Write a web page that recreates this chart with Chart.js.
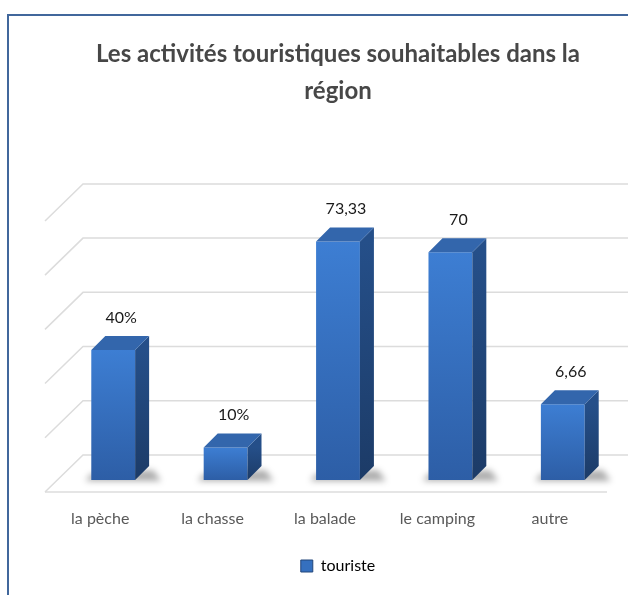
<!DOCTYPE html>
<html>
<head>
<meta charset="utf-8">
<script src="https://cdn.jsdelivr.net/npm/chart.js@4.4.0/dist/chart.umd.min.js"></script>
<style>
  html, body { margin: 0; padding: 0; background: #fff; }
  #bingkai { position: absolute; left: 7px; top: 14px; width: 700px; height: 700px;
             border-left: 2px solid #41679c; border-top: 2px solid #41679c; }
  canvas { position: absolute; left: 0; top: 0; }
</style>
</head>
<body>
<div id="bingkai"></div>
<canvas id="myChart" width="628" height="595"></canvas>
<script>
// --- 1. DATA ---
const categories = ['la pèche', 'la chasse', 'la balade', 'le camping', 'autre'];
const seriesName = 'touriste';
const values = [40, 10, 73.33, 70, 23.3];          // bar heights as drawn
const valueLabels = ['40%', '10%', '73,33', '70', '6,66'];
const gridTicks = [0, 16.67, 33.33, 50, 66.67, 83.33];
const titleLines = ['Les activités touristiques souhaitables dans la', 'région'];

// --- 2. STYLE ---
const FONT = 'Lato, "Open Sans", sans-serif';
const BAR_DEPTH = 14;   // depth of each column
const FLOOR_BACK = 25;  // back wall behind the column plane
const FLOOR_FRONT = 12; // floor edge in front of the column plane

// front face gradient, one per bar
function frontColor(c) {
    const chart = c.chart;
    if (!chart.chartArea || !chart.scales.y) return '#3570bf';
    const y = chart.scales.y;
    const top = y.getPixelForValue(c.raw);
    const bot = y.getPixelForValue(0);
    const g = chart.ctx.createLinearGradient(0, top, 0, bot);
    g.addColorStop(0, '#3d7ed3');
    g.addColorStop(1, '#2d5ea6');
    return g;
}

// --- 3. PLUGIN 3D (walls, shadows, sides, labels) ---
const dekor3d = {
    id: 'dekor3d',
    beforeDatasetsDraw(chart) {
        const { ctx, chartArea: a, scales: { y } } = chart;
        ctx.save();
        ctx.strokeStyle = '#dcdcdc';
        ctx.lineWidth = 1.5;
        gridTicks.forEach(v => {
            const py = y.getPixelForValue(v);
            ctx.beginPath();
            ctx.moveTo(a.left - FLOOR_FRONT, py + FLOOR_FRONT);
            ctx.lineTo(a.left + FLOOR_BACK + 1, py - FLOOR_BACK);
            ctx.lineTo(a.right + FLOOR_BACK + 1, py - FLOOR_BACK);
            ctx.stroke();
        });
        const p0 = y.getPixelForValue(0);
        ctx.beginPath();
        ctx.moveTo(a.left - FLOOR_FRONT, p0 + FLOOR_FRONT);
        ctx.lineTo(a.right - FLOOR_FRONT, p0 + FLOOR_FRONT);
        ctx.stroke();

        // soft shadows on the floor
        const meta = chart.getDatasetMeta(0);
        ctx.filter = 'blur(3px)';
        ctx.fillStyle = 'rgba(0,0,0,0.32)';
        meta.data.forEach(el => {
            const l = el.x - el.width / 2, r = el.x + el.width / 2;
            ctx.beginPath();
            ctx.moveTo(l - 6, el.base + 1);
            ctx.lineTo(r + BAR_DEPTH + 12, el.base + 1);
            ctx.lineTo(r + BAR_DEPTH + 4, el.base - BAR_DEPTH + 4);
            ctx.lineTo(l, el.base - 6);
            ctx.closePath();
            ctx.fill();
        });
        ctx.restore();
    },
    afterDatasetsDraw(chart) {
        const { ctx } = chart;
        const meta = chart.getDatasetMeta(0);
        const d = BAR_DEPTH;
        ctx.save();
        meta.data.forEach((el, i) => {
            const l = el.x - el.width / 2, r = el.x + el.width / 2;
            // side
            const gs = ctx.createLinearGradient(0, el.y, 0, el.base);
            gs.addColorStop(0, '#254f89');
            gs.addColorStop(1, '#1c3b67');
            ctx.fillStyle = gs;
            ctx.beginPath();
            ctx.moveTo(r, el.y);
            ctx.lineTo(r + d, el.y - d);
            ctx.lineTo(r + d, el.base - d);
            ctx.lineTo(r, el.base);
            ctx.closePath();
            ctx.fill();
            // top
            ctx.fillStyle = '#3366ac';
            ctx.beginPath();
            ctx.moveTo(l, el.y);
            ctx.lineTo(r, el.y);
            ctx.lineTo(r + d, el.y - d);
            ctx.lineTo(l + d, el.y - d);
            ctx.closePath();
            ctx.fill();
            // value label
            ctx.fillStyle = '#1a1a1a';
            ctx.font = '16px ' + FONT;
            ctx.textAlign = 'center';
            ctx.textBaseline = 'alphabetic';
            ctx.fillText(valueLabels[i], el.x + 8, el.y - 27);
        });
        ctx.restore();
    }
};

// --- 4. CHART ---
const ctx = document.getElementById('myChart').getContext('2d');
const myChart = new Chart(ctx, {
    type: 'bar',
    data: {
        labels: categories,
        datasets: [{
            label: seriesName,
            data: values,
            backgroundColor: frontColor,
            borderWidth: 0,
            barPercentage: 0.39,
            categoryPercentage: 1
        }]
    },
    options: {
        responsive: false,
        animation: false,
        layout: { padding: { left: 57, right: 9, top: 0, bottom: 11 } },
        scales: {
            y: {
                display: false,
                min: 0,
                max: gridTicks[gridTicks.length - 1]
            },
            x: {
                grid: { display: false, drawTicks: false },
                border: { display: false },
                ticks: {
                    labelOffset: -13,
                    padding: 29,
                    color: '#595959',
                    font: { family: FONT, size: 16 }
                },
                afterFit(scale) { scale.height = 68; }
            }
        },
        plugins: {
            title: {
                display: true,
                text: titleLines,
                color: '#474747',
                font: { family: FONT, size: 24, weight: 'bold', lineHeight: 1.54 },
                padding: { top: 36, bottom: 99 }
            },
            legend: {
                position: 'bottom',
                labels: {
                    color: '#595959',
                    font: { family: FONT, size: 16 },
                    boxWidth: 12,
                    boxHeight: 12,
                    padding: 10,
                    generateLabels: () => [{
                        text: seriesName,
                        fillStyle: '#3570bf',
                        strokeStyle: '#23467a',
                        lineWidth: 1,
                        hidden: false,
                        datasetIndex: 0
                    }]
                }
            },
            tooltip: { enabled: false }
        }
    },
    plugins: [dekor3d]
});
</script>
</body>
</html>
